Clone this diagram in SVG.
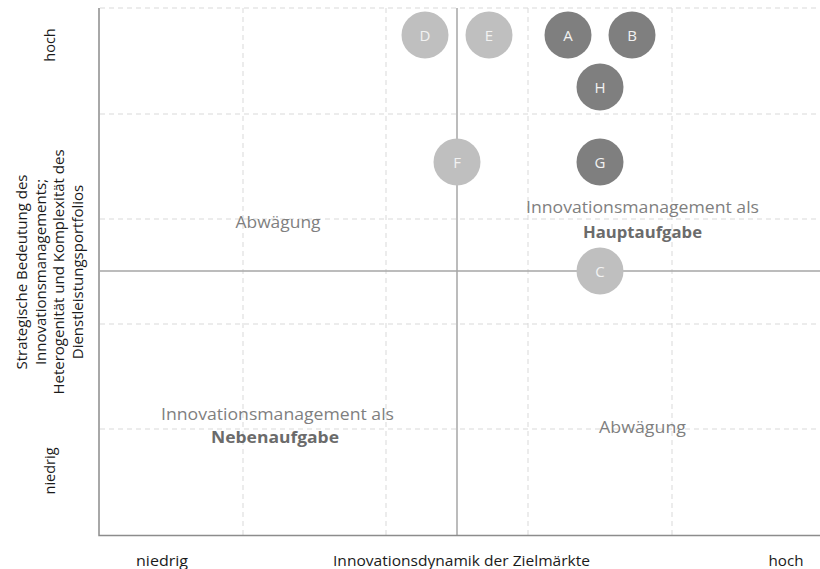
<svg xmlns="http://www.w3.org/2000/svg" width="820" height="569" viewBox="0 0 820 569">
<style>
.grid{stroke:#d9d9d9;stroke-width:1;stroke-dasharray:5 4;fill:none}
.axis{stroke:#8c8c8c;stroke-width:1.5;fill:none}
.mid{stroke:#a6a6a6;stroke-width:1.5;fill:none}
.light{fill:#bfbfbf}
.dark{fill:#7f7f7f}
.lbl{font-family:"Open Sans","Liberation Sans",sans-serif;font-size:15px;fill:#f2f2f2;text-anchor:middle}
.q{font-family:"Open Sans","Liberation Sans",sans-serif;font-size:16px;fill:#7f7f7f;text-anchor:middle}
.qb{font-family:"Open Sans","Liberation Sans",sans-serif;font-size:16px;font-weight:bold;fill:#6b6b6b;text-anchor:middle}
.ax{font-family:"Open Sans","Liberation Sans",sans-serif;font-size:14.5px;fill:#1a1a1a;text-anchor:middle}
.ax2{font-family:"Open Sans","Liberation Sans",sans-serif;font-size:15px;fill:#1a1a1a;text-anchor:middle}
</style>
<rect width="820" height="569" fill="#ffffff"/>
<g id="grid">
<path class="grid" d="M100 8H820M100 114H820M100 219H820M100 324H820M100 429H820"/>
<path class="grid" d="M243 8V535M386 8V535M528 8V535M672 8V535"/>
</g>
<g id="connectors">
<path class="mid" d="M457 8V535M100 271H820"/>
<path class="axis" d="M99 8V535.5H820"/>
</g>
<g id="quadrant-labels">
<text class="q" x="278" y="228" textLength="85" lengthAdjust="spacingAndGlyphs">Abwägung</text>
<text class="q" x="642.5" y="213" textLength="233" lengthAdjust="spacingAndGlyphs">Innovationsmanagement als</text>
<text class="qb" x="642.5" y="238" textLength="119" lengthAdjust="spacingAndGlyphs">Hauptaufgabe</text>
<text class="q" x="277.5" y="420" textLength="233" lengthAdjust="spacingAndGlyphs">Innovationsmanagement als</text>
<text class="qb" x="275" y="443" textLength="128" lengthAdjust="spacingAndGlyphs">Nebenaufgabe</text>
<text class="q" x="642.5" y="433" textLength="87" lengthAdjust="spacingAndGlyphs">Abwägung</text>
</g>
<g id="axis-labels">
<text class="ax" x="162" y="566" textLength="52" lengthAdjust="spacingAndGlyphs">niedrig</text>
<text class="ax" x="461.5" y="566" textLength="257" lengthAdjust="spacingAndGlyphs">Innovationsdynamik der Zielmärkte</text>
<text class="ax" x="786" y="566" textLength="35" lengthAdjust="spacingAndGlyphs">hoch</text>
<text class="ax" transform="translate(55 45) rotate(-90)" x="0" y="0">hoch</text>
<text class="ax" transform="translate(55 471) rotate(-90)" x="0" y="0">niedrig</text>
<g transform="translate(0 272) rotate(-90)">
<text class="ax2" x="0" y="27">Strategische Bedeutung des</text>
<text class="ax2" x="0" y="45.5">Innovationsmanagements;</text>
<text class="ax2" x="0" y="64">Heterogenität und Komplexität des</text>
<text class="ax2" x="0" y="82.5">Dienstleistungsportfolios</text>
</g>
</g>
<g id="node-D"><circle class="light" cx="425" cy="35" r="23.5"/><text class="lbl" x="425" y="40.5">D</text></g>
<g id="node-E"><circle class="light" cx="489" cy="35" r="23.5"/><text class="lbl" x="489" y="40.5">E</text></g>
<g id="node-A"><circle class="dark" cx="568" cy="35" r="23.5"/><text class="lbl" x="568" y="40.5">A</text></g>
<g id="node-B"><circle class="dark" cx="632" cy="35" r="23.5"/><text class="lbl" x="632" y="40.5">B</text></g>
<g id="node-H"><circle class="dark" cx="600" cy="87" r="23.5"/><text class="lbl" x="600" y="92.5">H</text></g>
<g id="node-F"><circle class="light" cx="457" cy="162" r="23.5"/><text class="lbl" x="457" y="167.5">F</text></g>
<g id="node-G"><circle class="dark" cx="600" cy="162" r="23.5"/><text class="lbl" x="600" y="167.5">G</text></g>
<g id="node-C"><circle class="light" cx="600" cy="271" r="23.5"/><text class="lbl" x="600" y="276.5">C</text></g>
</svg>
